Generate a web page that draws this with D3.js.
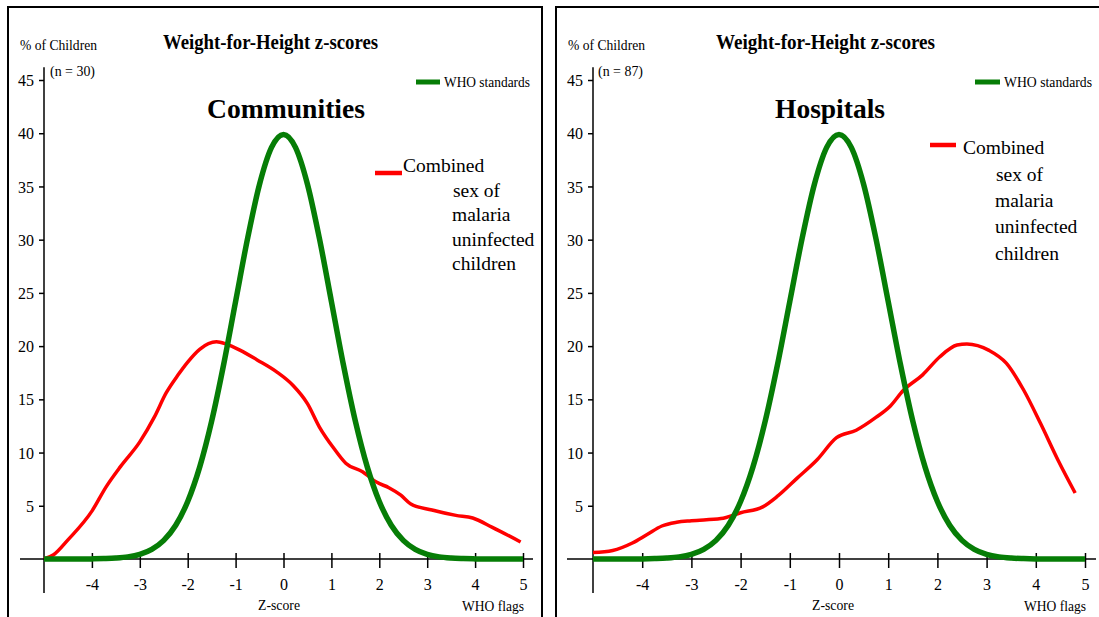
<!DOCTYPE html>
<html>
<head>
<meta charset="utf-8">
<script src="https://cdn.jsdelivr.net/npm/d3@7"></script>
<style>
  html, body { margin: 0; padding: 0; background: #fff; }
  svg { display: block; }
  text { font-family: "Liberation Serif", "Times New Roman", serif; fill: #000; }
</style>
</head>
<body>
<svg id="chart" width="1099" height="617"></svg>
<script>
// ---------------- DATA ----------------
const xTicks = [-4, -3, -2, -1, 0, 1, 2, 3, 4, 5];
const yTicks = [5, 10, 15, 20, 25, 30, 35, 40, 45];

// WHO standard reference curve (% of children), read at z steps of 0.25
const whoZ = [-5, -4.75, -4.5, -4.25, -4, -3.75, -3.5, -3.25, -3, -2.75, -2.5, -2.25, -2, -1.75, -1.5, -1.25, -1, -0.75, -0.5, -0.25,
              0, 0.25, 0.5, 0.75, 1, 1.25, 1.5, 1.75, 2, 2.25, 2.5, 2.75, 3, 3.25, 3.5, 3.75, 4, 4.25, 4.5, 4.75, 5];
const whoPct = [0, 0, 0, 0, 0.01, 0.04, 0.09, 0.2, 0.44, 0.91, 1.75, 3.17, 5.4, 8.63, 12.95, 18.26, 24.2, 30.11, 35.21, 38.67,
                39.89, 38.67, 35.21, 30.11, 24.2, 18.26, 12.95, 8.63, 5.4, 3.17, 1.75, 0.91, 0.44, 0.2, 0.09, 0.04, 0.01, 0, 0, 0, 0];

// Communities (n = 30): combined sex of malaria uninfected children
const commZ = [-5.0, -4.8, -4.5, -4.0, -3.7, -3.4, -3.0, -2.7, -2.45, -2.2, -2.0, -1.75, -1.4, -1.2, -0.9, -0.55, -0.15, 0.2, 0.5,
               0.75, 1.05, 1.3, 1.65, 1.95, 2.2, 2.45, 2.65, 3.1, 3.6, 3.95, 4.35, 4.95];
const commPct = [0.0, 0.4, 1.8, 4.5, 6.8, 8.7, 11.0, 13.3, 15.6, 17.3, 18.5, 19.7, 20.4, 20.2, 19.6, 18.7, 17.6, 16.3, 14.6,
                 12.4, 10.4, 9.0, 8.2, 7.2, 6.7, 6.0, 5.2, 4.6, 4.1, 3.85, 3.0, 1.6];

// Hospitals (n = 87)
const hospZ = [-5.0, -4.6, -4.2, -3.9, -3.6, -3.3, -3.0, -2.4, -2.0, -1.55, -1.25, -0.85, -0.45, -0.05, 0.35, 0.75, 1.05, 1.3,
               1.7, 2.05, 2.4, 2.6, 3.05, 3.4, 3.75, 4.1, 4.45, 4.8];
const hospPct = [0.6, 0.8, 1.5, 2.3, 3.1, 3.45, 3.6, 3.8, 4.35, 4.9, 5.9, 7.6, 9.3, 11.4, 12.1, 13.3, 14.4, 15.8,
                 17.3, 19.0, 20.1, 20.2, 19.6, 18.4, 15.9, 12.7, 9.3, 6.2];

const panelNames = ["Communities", "Hospitals"];
const sampleSizes = ["(n = 30)", "(n = 87)"];
const titleText = "Weight-for-Height z-scores";
const legendWho = "WHO standards";
const legendRedLines = ["Combined", "sex of", "malaria", "uninfected", "children"];
const yLabel = "% of Children";
const xLabel = "Z-score";
const flagLabel = "WHO flags";

// ---------------- LAYOUT ----------------
const GREEN = "#067d06";
const RED = "#ff0000";

const panels = [
  { name: panelNames[0], n: sampleSizes[0], z: commZ, v: commPct,
    box: [8, 7, 542], xr: [44, 523],
    title: [163, 215], nameX: 286, nameW: 158,
    whoLeg: [416, 440, 444, 86],
    redLeg: { l: [375, 402, 173], tx0: 403, tx: 453, ty: [172, 197, 221, 246, 270] },
    yl: [20, 77], nX: 50, xAxis: [20, 533], zLab: 279, flag: 493 },
  { name: panelNames[1], n: sampleSizes[1], z: hospZ, v: hospPct,
    box: [556, 7, 1110], xr: [593, 1085],
    title: [716, 219], nameX: 830, nameW: 110,
    whoLeg: [975, 1000, 1004, 88],
    redLeg: { l: [930, 956, 145], tx0: 963, tx: 996, ty: [154, 181, 207, 233, 260] },
    yl: [568, 77], nX: 598, xAxis: [567, 1096], zLab: 833, flag: 1055 }
];

const svg = d3.select("#chart");
svg.append("rect").attr("width", 1099).attr("height", 617).attr("fill", "#fff");

const y = d3.scaleLinear().domain([0, 45]).range([559, 80]);

panels.forEach((p, i) => {
  const g = svg.append("g");
  const x = d3.scaleLinear().domain([-5, 5]).range(p.xr);

  // panel frame (open at bottom)
  g.append("path")
    .attr("d", `M${p.box[0]},640 V${p.box[1]} H${p.box[2]} V640`)
    .attr("fill", "none").attr("stroke", "#000").attr("stroke-width", 2);

  // title
  g.append("text")
    .attr("x", p.title[0]).attr("y", 49)
    .attr("font-size", 22).attr("font-weight", "bold")
    .attr("textLength", p.title[1]).attr("lengthAdjust", "spacingAndGlyphs")
    .text(titleText);

  // y label and n
  g.append("text").attr("x", p.yl[0]).attr("y", 50).attr("font-size", 15)
    .attr("textLength", p.yl[1]).attr("lengthAdjust", "spacingAndGlyphs").text(yLabel);
  g.append("text").attr("x", p.nX).attr("y", 76).attr("font-size", 15)
    .attr("textLength", 45).attr("lengthAdjust", "spacingAndGlyphs").text(p.n);

  // panel name
  g.append("text").attr("x", p.nameX).attr("y", 118).attr("text-anchor", "middle")
    .attr("font-size", 27).attr("font-weight", "bold")
    .attr("textLength", p.nameW).attr("lengthAdjust", "spacingAndGlyphs").text(p.name);

  // y axis
  const yAxis = d3.axisLeft(y).tickValues(yTicks).tickSize(5).tickPadding(5).tickFormat(d => String(d));
  const ya = g.append("g").attr("transform", `translate(${p.xr[0]},0)`).call(yAxis);
  ya.select(".domain").remove();
  ya.selectAll(".tick line").attr("stroke", "#000").attr("stroke-width", 1.5);
  ya.selectAll(".tick text").attr("font-size", 16).attr("fill", "#222").attr("dy", "0.35em");
  g.append("line").attr("x1", p.xr[0]).attr("x2", p.xr[0])
    .attr("y1", y(46.2)).attr("y2", y(-3.2)).attr("stroke", "#000").attr("stroke-width", 1.5);

  // x axis
  const xAxis = d3.axisBottom(x).tickValues(xTicks).tickSize(9).tickPadding(11).tickFormat(d => String(d));
  const xa = g.append("g").attr("transform", `translate(0,${y(0)})`).call(xAxis);
  xa.select(".domain").remove();
  xa.selectAll(".tick line").attr("y1", -6).attr("stroke", "#000").attr("stroke-width", 1.5);
  xa.selectAll(".tick text").attr("font-size", 16).attr("fill", "#222");
  g.append("line").attr("x1", p.xAxis[0]).attr("x2", p.xAxis[1])
    .attr("y1", y(0)).attr("y2", y(0)).attr("stroke", "#000").attr("stroke-width", 1.5);

  g.append("text").attr("x", p.zLab).attr("y", 610).attr("text-anchor", "middle").attr("font-size", 15)
    .attr("textLength", 42).attr("lengthAdjust", "spacingAndGlyphs").text(xLabel);
  g.append("text").attr("x", p.flag).attr("y", 611).attr("text-anchor", "middle").attr("font-size", 15)
    .attr("textLength", 62).attr("lengthAdjust", "spacingAndGlyphs").text(flagLabel);

  // curves
  const line = d3.line().x(d => x(d[0])).y(d => y(d[1])).curve(d3.curveMonotoneX);
  g.append("path").datum(d3.zip(p.z, p.v)).attr("d", line)
    .attr("fill", "none").attr("stroke", RED).attr("stroke-width", 3.5).attr("stroke-linejoin", "round");
  g.append("path").datum(d3.zip(whoZ, whoPct)).attr("d", line)
    .attr("fill", "none").attr("stroke", GREEN).attr("stroke-width", 5.5).attr("stroke-linejoin", "round");

  // WHO legend
  g.append("line").attr("x1", p.whoLeg[0]).attr("x2", p.whoLeg[1]).attr("y1", 82).attr("y2", 82)
    .attr("stroke", GREEN).attr("stroke-width", 5);
  g.append("text").attr("x", p.whoLeg[2]).attr("y", 87).attr("font-size", 15)
    .attr("textLength", p.whoLeg[3]).attr("lengthAdjust", "spacingAndGlyphs").text(legendWho);

  // red legend
  const r = p.redLeg;
  g.append("line").attr("x1", r.l[0]).attr("x2", r.l[1]).attr("y1", r.l[2]).attr("y2", r.l[2])
    .attr("stroke", RED).attr("stroke-width", 4.5);
  legendRedLines.forEach((s, k) => {
    g.append("text").attr("x", k === 0 ? r.tx0 : (k === 1 ? r.tx : r.tx - 1)).attr("y", r.ty[k])
      .attr("font-size", 19.5).text(s);
  });
});
</script>
</body>
</html>
